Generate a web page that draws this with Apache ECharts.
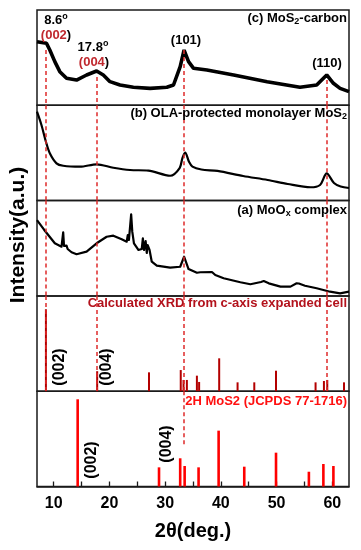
<!DOCTYPE html>
<html><head><meta charset="utf-8">
<script src="https://cdn.jsdelivr.net/npm/echarts@6/dist/echarts.min.js"></script>
<style>html,body{margin:0;padding:0;background:#fff}#c{width:361px;height:550px}</style>
</head><body><div id="c"></div>
<script>
// ---- data (2θ in degrees, intensity in arbitrary units 0-100 per panel) ----
const cX = [7.0, 8.7, 9.3, 10.2, 11.1, 12.3, 14.1, 15.9, 17.7, 18.9, 20.1, 21.9, 24.3, 27.3, 30.3, 31.5, 32.7, 33.4, 34.2, 35.1, 37.5, 42.3, 48.3, 54.2, 57.2, 59.0, 60.2, 61.4, 63.0];
const cY = [66.7, 65.1, 58.0, 45.8, 35.3, 28.3, 26.5, 31.8, 36.0, 31.8, 24.8, 21.3, 18.9, 17.8, 18.9, 21.3, 40.5, 58.0, 45.8, 38.8, 37.0, 31.8, 24.8, 18.9, 21.3, 31.8, 23.1, 17.8, 14.3];

const bX = [7.0, 7.8, 8.6, 9.3, 10.5, 11.7, 14.7, 17.7, 20.7, 23.7, 27.0, 30.9, 32.6, 33.1, 33.6, 34.3, 34.9, 36.5, 39.4, 44.0, 48.4, 52.0, 56.1, 57.8, 59.0, 60.3, 61.5, 63.0];
const bY = [93.3, 79.3, 61.8, 49.6, 39.1, 36.6, 35.6, 38.1, 34.5, 32.1, 31.5, 26.1, 34.2, 44.7, 50.3, 40.5, 35.6, 32.6, 31.1, 25.8, 21.6, 17.4, 14.0, 16.4, 28.6, 18.5, 14.8, 13.2];

const aX = [7.0, 8.3, 10.2, 11.4, 11.6, 11.7, 11.85, 12.1, 12.3, 12.5, 13.2, 14.1, 15.9, 17.7, 19.5, 20.7, 22.2, 23.1, 23.3, 23.5, 23.9, 24.1, 24.4, 25.2, 25.8, 26.0, 26.2, 26.5, 26.7, 26.85, 27.2, 27.6, 28.5, 30.9, 32.7, 33.4, 34.2, 35.7, 36.3, 38.4, 39.0, 40.5, 43.5, 45.3, 47.2, 47.7, 48.6, 50.7, 52.5, 53.6, 54.0, 55.1, 57.2, 59.6, 61.4, 63.0];
const aY = [79.6, 69.2, 55.2, 51.6, 52.4, 66.7, 52.4, 51.3, 52.7, 49.2, 45.8, 43.7, 46.4, 55.2, 62.1, 63.2, 59.4, 56.9, 63.9, 58.7, 85.6, 67.4, 55.2, 48.2, 49.2, 60.4, 48.2, 57.6, 45.0, 53.4, 48.2, 35.9, 31.7, 29.6, 30.6, 41.1, 28.2, 24.3, 24.8, 25.1, 21.9, 18.5, 14.3, 12.2, 14.6, 15.6, 13.2, 9.7, 9.7, 13.2, 13.0, 10.7, 8.0, 4.4, 2.7, 4.4];

const calcPos = [8.6, 17.8, 27.1, 32.8, 33.3, 33.9, 35.7, 36.1, 39.7, 43.0, 46.0, 49.9, 57.0, 58.5, 59.1, 62.1];
const calcInt = [86.0, 21.0, 19.8, 22.2, 11.8, 11.8, 16.3, 9.7, 34.5, 9.3, 9.3, 21.5, 9.3, 10.7, 11.8, 9.3];

const jcPos = [14.3, 28.9, 32.7, 33.5, 36.0, 39.6, 44.2, 49.9, 55.8, 58.4, 60.2];
const jcInt = [91.5, 20.1, 29.6, 21.5, 20.1, 58.6, 20.8, 35.5, 15.5, 23.6, 21.5];

// reference peak positions (dashed guides) and where they start in panel (c)
const peakPos = [8.6, 17.8, 33.4, 59.0];
const peakStartC = [58.0, 29.7, 58.0, 26.5];
const peak2HEnd = 43.5; // (101) guide end inside JCPDS panel

const xTickVals = [10, 15, 20, 25, 30, 35, 40, 45, 50, 55, 60];
const xTickLabels = [10, 20, 30, 40, 50, 60];

// ---- layout ----
const tops = [10, 105.3, 200.6, 295.9, 391.2];
const H = 95.3;
const FF = '"Liberation Sans", Arial, sans-serif';
const DASH = '#de2a2a';

const zip = (xs, ys) => xs.map((x, i) => [x, ys[i]]);

const dashStyle = { color: DASH, width: 1.5, type: [4, 3] };

function guideSeries(gi, data) {
  return {
    type: 'line', xAxisIndex: gi, yAxisIndex: gi, data: [], z: 5,
    markLine: { silent: true, symbol: 'none', label: { show: false }, lineStyle: dashStyle, animation: false, data: data }
  };
}

const fullGuides = peakPos.map(p => [{ coord: [p, 100] }, { coord: [p, 0] }]);

const series = [
  { type: 'line', xAxisIndex: 0, yAxisIndex: 0, data: zip(cX, cY), showSymbol: false, lineStyle: { color: '#000', width: 3.6 }, z: 3 },
  { type: 'line', xAxisIndex: 1, yAxisIndex: 1, data: zip(bX, bY), showSymbol: false, smooth: 0.3, lineStyle: { color: '#000', width: 2.2 }, z: 3 },
  { type: 'line', xAxisIndex: 2, yAxisIndex: 2, data: zip(aX, aY), showSymbol: false, lineStyle: { color: '#000', width: 2.2, join: 'round' }, z: 3 },
  { type: 'bar', xAxisIndex: 3, yAxisIndex: 3, data: zip(calcPos, calcInt), barWidth: 2, itemStyle: { color: '#b30000' }, z: 3 },
  { type: 'bar', xAxisIndex: 4, yAxisIndex: 4, data: zip(jcPos, jcInt), barWidth: 2.6, itemStyle: { color: '#ff0000' }, z: 3 },
  guideSeries(0, peakPos.map((p, i) => [{ coord: [p, peakStartC[i]] }, { coord: [p, 0] }])),
  guideSeries(1, fullGuides),
  guideSeries(2, fullGuides),
  guideSeries(3, fullGuides),
  guideSeries(4, [[{ coord: [peakPos[2], 100] }, { coord: [peakPos[2], peak2HEnd] }]])
];

const txt = (x, y, text, opt) => Object.assign({
  type: 'text', x: x, y: y, z: 100,
  style: Object.assign({ text: text, font: 'bold 13px ' + FF, fill: '#000', align: 'center', verticalAlign: 'middle' }, opt || {})
});

const subRich = {
  sub: { fontSize: 9, fontWeight: 'bold', fontFamily: FF, verticalAlign: 'bottom', lineHeight: 9 },
  sup: { fontSize: 9, fontWeight: 'bold', fontFamily: FF, verticalAlign: 'top', lineHeight: 9 },
  r: { fontSize: 13, fontWeight: 'bold', fontFamily: FF, fill: '#c0282e', color: '#c0282e', lineHeight: 16 },
  k: { fontSize: 13, fontWeight: 'bold', fontFamily: FF, lineHeight: 16 },
  n: { fontSize: 13, fontWeight: 'bold', fontFamily: FF, lineHeight: 16 }
};
const richTxt = (x, y, text, align, color) => ({
  type: 'text', x: x, y: y, z: 100,
  style: { text: text, rich: subRich, font: 'bold 13px ' + FF, fontSize: 13, fontWeight: 'bold', fontFamily: FF, fill: color || '#000', align: align || 'center', verticalAlign: 'middle' }
});

const graphic = [
  // panel titles
  richTxt(347, 18, '{n|(c) MoS}{sub|2}{n|-carbon}', 'right'),
  richTxt(347, 113, '{n|(b) OLA-protected monolayer MoS}{sub|2}', 'right'),
  richTxt(347, 210, '{n|(a) MoO}{sub|x}{n| complex}', 'right'),
  txt(347, 303, 'Calculated XRD from c-axis expanded cell', { align: 'right', fill: '#b3121c' }),
  txt(347, 401, '2H MoS2 (JCPDS 77-1716)', { align: 'right', fill: '#ff1010' }),
  // peak annotations in (c)
  richTxt(56, 20, '{n|8.6}{sup|o}'),
  richTxt(56, 35, '{r|(002}{k|)}'),
  richTxt(93, 47, '{n|17.8}{sup|o}'),
  richTxt(94, 62, '{r|(004}{k|)}'),
  txt(186, 40, '(101)'),
  txt(327, 63, '(110)'),
  // rotated reflection labels
  Object.assign(txt(60, 367, '(002)', { font: 'bold 16px ' + FF }), { rotation: Math.PI / 2 }),
  Object.assign(txt(107, 367, '(004)', { font: 'bold 16px ' + FF }), { rotation: Math.PI / 2 }),
  Object.assign(txt(92, 460, '(002)', { font: 'bold 16px ' + FF }), { rotation: Math.PI / 2 }),
  Object.assign(txt(167, 444, '(004)', { font: 'bold 16px ' + FF }), { rotation: Math.PI / 2 }),
  // y axis title
  Object.assign(txt(18, 235, 'Intensity(a.u.)', { font: 'bold 21px ' + FF }), { rotation: Math.PI / 2 })
];

const chart = echarts.init(document.getElementById('c'), null, { renderer: 'canvas' });
chart.setOption({
  animation: false,
  backgroundColor: '#fff',
  grid: tops.map(t => ({ left: 37, width: 312, top: t, height: H, show: true, borderColor: '#1a1a1a', borderWidth: 1.5, backgroundColor: 'transparent' })),
  xAxis: tops.map((t, i) => ({
    gridIndex: i, type: 'value', min: 7, max: 63, show: i === 4,
    axisLine: { show: true, lineStyle: { color: '#1a1a1a', width: 1.5 } },
    axisTick: { show: true, inside: true, length: 5, customValues: xTickVals, lineStyle: { color: '#1a1a1a', width: 1.3 } },
    axisLabel: { customValues: xTickLabels, fontSize: 16, fontWeight: 'bold', color: '#000', fontFamily: FF, margin: 9 },
    splitLine: { show: false },
    name: i === 4 ? '2θ(deg.)' : '',
    nameLocation: 'middle', nameGap: 35,
    nameTextStyle: { fontSize: 20, fontWeight: 'bold', color: '#000', fontFamily: FF }
  })),
  yAxis: tops.map((t, i) => ({ gridIndex: i, type: 'value', min: 0, max: 100, show: false, splitLine: { show: false } })),
  series: series,
  graphic: graphic
});
</script></body></html>
